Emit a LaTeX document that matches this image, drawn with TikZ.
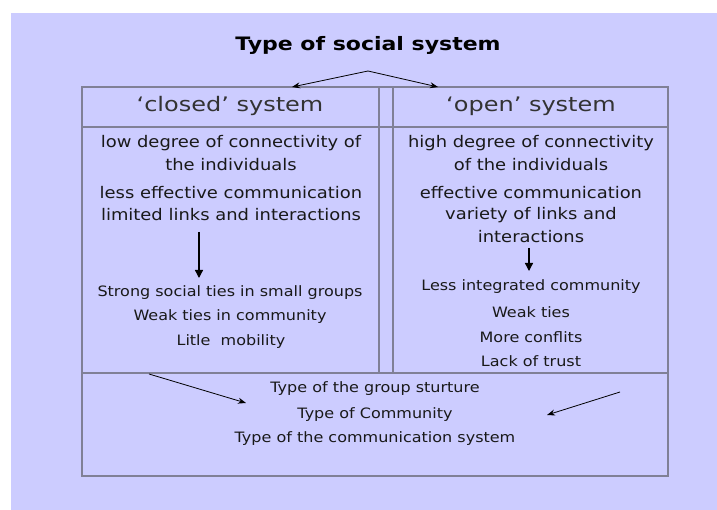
\documentclass[tikz,border=0pt]{standalone}
\usepackage{fontspec}
\setmainfont{DejaVu Sans}
\newfontfamily\bodyf[FakeStretch=1.12]{DejaVu Sans}
\newfontfamily\hdrf[FakeStretch=1.2]{DejaVu Sans}
\newfontfamily\ttlf[FakeStretch=1.19]{DejaVu Sans}
\usetikzlibrary{arrows.meta}
\definecolor{bg}{RGB}{204,204,255}
\definecolor{boxgray}{RGB}{128,128,150}
\definecolor{ink}{RGB}{25,25,25}
\begin{document}
\begin{tikzpicture}[x=1pt,y=-1pt,
  txt/.style={font=\bodyf\fontsize{16}{18}\selectfont, text=ink, inner sep=0pt, anchor=center},
  txts/.style={font=\bodyf\fontsize{14.3}{17}\selectfont, text=ink, inner sep=0pt, anchor=center},
  hdr/.style={font=\hdrf\fontsize{20}{24}\selectfont, text=black!80, inner sep=0pt, anchor=center},
  ttl/.style={font=\ttlf\bfseries\fontsize{18.5}{21}\selectfont, text=black, inner sep=0pt, anchor=center},
  frame/.style={draw=boxgray, line width=2.2pt},
  rulel/.style={draw=boxgray, line width=1.1pt},
  arr/.style={-{Stealth[length=8pt,width=6pt]}, line width=0.8pt, draw=black},
  varr/.style={-{Triangle[length=8pt,width=8pt]}, line width=1.3pt, draw=black}]
\fill[white] (0,0) rectangle (717,510);
\fill[bg] (11,13) rectangle (717,510);
\useasboundingbox (0,0) rectangle (717,510);
% frame
\draw[frame] (82,87) rectangle (668,476);
\draw[rulel] (82,127) -- (668,127);
\draw[rulel] (379,87) -- (379,373);
\draw[rulel] (393,87) -- (393,373);
\draw[rulel] (82,373) -- (668,373);
% title
\node[ttl] (title) at (368,45) {Type of social system};
\coordinate (apex) at (368,71);
\coordinate (ltip) at (292,87);
\coordinate (rtip) at (438,87);
\draw[arr] (apex) -- (ltip);
\draw[arr] (apex) -- (rtip);
% headers
\node[hdr] (closed) at (230,106) {‘closed’ system};
\node[hdr] (open) at (531,106) {‘open’ system};
% left column
\node[txt] (l1) at (231,143) {low degree of connectivity of};
\node[txt] (l2) at (231,165) {the individuals};
\node[txt] (l3) at (231,193) {less effective communication};
\node[txt] (l4) at (231,215) {limited links and interactions};
\coordinate (la) at (199,232);
\coordinate (lb) at (199,278);
\draw[varr] (la) -- (lb);
\node[txts] (l5) at (230,293) {Strong social ties in small groups};
\node[txts] (l6) at (230,317) {Weak ties in community};
\node[txts] (l7) at (231,342) {Litle\ \ mobility};
% right column
\node[txt] (r1) at (531,143) {high degree of connectivity};
\node[txt] (r2) at (531,165) {of the individuals};
\node[txt] (r3) at (531,193) {effective communication};
\node[txt] (r4) at (531,215) {variety of links and};
\node[txt] (r5) at (531,237) {interactions};
\coordinate (ra) at (529,248);
\coordinate (rb) at (529,271);
\draw[varr] (ra) -- (rb);
\node[txts] (r6) at (531,287) {Less integrated community};
\node[txts] (r7) at (531,312) {Weak ties};
\node[txts] (r8) at (531,337) {More conflits};
\node[txts] (r9) at (531,361) {Lack of trust};
% bottom
\node[txts] (b1) at (375,389) {Type of the group sturture};
\node[txts] (b2) at (375,415) {Type of Community};
\node[txts] (b3) at (375,439) {Type of the communication system};
\coordinate (bl0) at (149,374);
\coordinate (bl1) at (246,403);
\coordinate (br0) at (620,392);
\coordinate (br1) at (547,415);
\draw[arr] (bl0) -- (bl1);
\draw[arr] (br0) -- (br1);
\end{tikzpicture}
\end{document}
